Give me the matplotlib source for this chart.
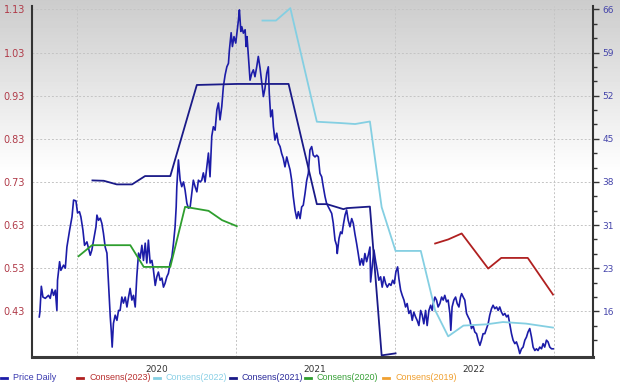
import numpy as np
import pandas as pd
import matplotlib
matplotlib.use('Agg')
import matplotlib.pyplot as plt
import matplotlib.dates as mdates
from matplotlib.lines import Line2D
from matplotlib.ticker import FixedLocator, NullFormatter

# daily price, decimal-year positions
price_t = [
    2019.761, 2019.765, 2019.774, 2019.784, 2019.799, 2019.819, 2019.830, 2019.841, 2019.851, 2019.862,
    2019.872, 2019.876, 2019.889, 2019.897, 2019.914, 2019.925, 2019.935, 2019.952, 2019.967, 2019.977,
    2019.992, 2020.002, 2020.014, 2020.023, 2020.036, 2020.046, 2020.061, 2020.071, 2020.082, 2020.092,
    2020.103, 2020.118, 2020.124, 2020.134, 2020.145, 2020.155, 2020.165, 2020.176, 2020.187, 2020.197,
    2020.208, 2020.214, 2020.220, 2020.228, 2020.239, 2020.250, 2020.260, 2020.270, 2020.281, 2020.291,
    2020.302, 2020.313, 2020.323, 2020.333, 2020.344, 2020.354, 2020.365, 2020.375, 2020.386, 2020.396,
    2020.407, 2020.417, 2020.428, 2020.438, 2020.448, 2020.459, 2020.470, 2020.480, 2020.491, 2020.501,
    2020.511, 2020.522, 2020.533, 2020.543, 2020.553, 2020.564, 2020.574, 2020.585, 2020.596, 2020.606,
    2020.616, 2020.623, 2020.627, 2020.637, 2020.648, 2020.658, 2020.669, 2020.679, 2020.690, 2020.700,
    2020.711, 2020.721, 2020.731, 2020.742, 2020.753, 2020.763, 2020.774, 2020.784, 2020.794, 2020.805,
    2020.816, 2020.826, 2020.836, 2020.847, 2020.857, 2020.868, 2020.879, 2020.889, 2020.899, 2020.910,
    2020.920, 2020.931, 2020.942, 2020.952, 2020.958, 2020.969, 2020.977, 2020.987, 2020.998, 2021.008,
    2021.015, 2021.021, 2021.030, 2021.036, 2021.046, 2021.057, 2021.063, 2021.069, 2021.077, 2021.088,
    2021.099, 2021.109, 2021.119, 2021.130, 2021.140, 2021.151, 2021.162, 2021.172, 2021.182, 2021.193,
    2021.203, 2021.209, 2021.218, 2021.228, 2021.235, 2021.245, 2021.256, 2021.266, 2021.277, 2021.287,
    2021.297, 2021.308, 2021.319, 2021.329, 2021.340, 2021.350, 2021.360, 2021.371, 2021.382, 2021.392,
    2021.403, 2021.413, 2021.423, 2021.434, 2021.445, 2021.455, 2021.465, 2021.476, 2021.486, 2021.497,
    2021.508, 2021.518, 2021.528, 2021.539, 2021.549, 2021.560, 2021.570, 2021.581, 2021.591, 2021.602,
    2021.612, 2021.623, 2021.633, 2021.637, 2021.648, 2021.658, 2021.667, 2021.675, 2021.686, 2021.696,
    2021.706, 2021.717, 2021.728, 2021.738, 2021.748, 2021.759, 2021.769, 2021.780, 2021.791, 2021.801,
    2021.811, 2021.822, 2021.832, 2021.843, 2021.847, 2021.857, 2021.868, 2021.879, 2021.889, 2021.899,
    2021.910, 2021.920, 2021.931, 2021.942, 2021.952, 2021.964, 2021.975, 2021.986, 2021.996, 2022.006,
    2022.017, 2022.025, 2022.036, 2022.046, 2022.057, 2022.067, 2022.077, 2022.088, 2022.099, 2022.109,
    2022.119, 2022.130, 2022.140, 2022.151, 2022.162, 2022.172, 2022.182, 2022.193, 2022.203, 2022.214,
    2022.225, 2022.235, 2022.241, 2022.252, 2022.262, 2022.272, 2022.283, 2022.294, 2022.304, 2022.314,
    2022.325, 2022.335, 2022.346, 2022.352, 2022.360, 2022.371, 2022.382, 2022.392, 2022.403, 2022.413,
    2022.420, 2022.430, 2022.440, 2022.451, 2022.461, 2022.472, 2022.482, 2022.492, 2022.503, 2022.514,
    2022.524, 2022.535, 2022.545, 2022.555, 2022.566, 2022.577, 2022.587, 2022.597, 2022.608, 2022.618,
    2022.629, 2022.640, 2022.650, 2022.660, 2022.671, 2022.681, 2022.692, 2022.703, 2022.713, 2022.723,
    2022.734, 2022.744, 2022.755, 2022.765, 2022.776, 2022.786, 2022.797, 2022.807, 2022.818, 2022.828,
    2022.838, 2022.849, 2022.860, 2022.870, 2022.881, 2022.891, 2022.901, 2022.912, 2022.923, 2022.933,
    2022.943, 2022.954, 2022.964, 2022.975, 2022.986, 2022.996,
]
price = [
    0.417, 0.428, 0.488, 0.463, 0.460, 0.467, 0.460, 0.481, 0.467, 0.479,
    0.432, 0.502, 0.545, 0.525, 0.537, 0.530, 0.579, 0.618, 0.649, 0.688,
    0.686, 0.658, 0.661, 0.649, 0.618, 0.583, 0.591, 0.576, 0.560, 0.572,
    0.595, 0.626, 0.653, 0.641, 0.646, 0.634, 0.611, 0.579, 0.565, 0.495,
    0.417, 0.386, 0.347, 0.402, 0.421, 0.409, 0.432, 0.432, 0.463, 0.449,
    0.463, 0.440, 0.463, 0.483, 0.456, 0.467, 0.440, 0.510, 0.565, 0.553,
    0.583, 0.548, 0.588, 0.542, 0.595, 0.542, 0.548, 0.525, 0.490, 0.510,
    0.521, 0.502, 0.507, 0.486, 0.495, 0.510, 0.518, 0.542, 0.556, 0.588,
    0.626, 0.672, 0.719, 0.781, 0.734, 0.719, 0.730, 0.711, 0.681, 0.669,
    0.672, 0.704, 0.734, 0.719, 0.707, 0.734, 0.730, 0.734, 0.751, 0.730,
    0.765, 0.797, 0.742, 0.836, 0.858, 0.850, 0.897, 0.913, 0.874, 0.905,
    0.951, 0.978, 0.997, 1.005, 1.036, 1.076, 1.044, 1.067, 1.052, 1.083,
    1.106, 1.129, 1.079, 1.090, 1.075, 1.083, 1.044, 1.067, 1.025, 0.966,
    0.982, 0.990, 0.974, 0.997, 1.021, 0.994, 0.959, 0.928, 0.947, 0.982,
    0.997, 0.936, 0.881, 0.897, 0.858, 0.827, 0.843, 0.820, 0.812, 0.796,
    0.785, 0.765, 0.788, 0.773, 0.758, 0.734, 0.696, 0.665, 0.645, 0.661,
    0.645, 0.672, 0.676, 0.703, 0.734, 0.750, 0.804, 0.812, 0.792, 0.788,
    0.792, 0.788, 0.750, 0.742, 0.719, 0.696, 0.680, 0.672, 0.665, 0.657,
    0.634, 0.595, 0.583, 0.564, 0.599, 0.614, 0.610, 0.630, 0.653, 0.665,
    0.641, 0.626, 0.645, 0.634, 0.610, 0.587, 0.564, 0.537, 0.552, 0.537,
    0.564, 0.545, 0.560, 0.579, 0.498, 0.533, 0.572, 0.545, 0.525, 0.502,
    0.510, 0.486, 0.510, 0.494, 0.486, 0.494, 0.490, 0.502, 0.494, 0.521,
    0.533, 0.506, 0.479, 0.467, 0.456, 0.440, 0.448, 0.425, 0.432, 0.409,
    0.428, 0.417, 0.409, 0.397, 0.432, 0.421, 0.401, 0.432, 0.397, 0.432,
    0.444, 0.432, 0.448, 0.463, 0.456, 0.440, 0.448, 0.463, 0.456, 0.467,
    0.452, 0.456, 0.425, 0.386, 0.440, 0.456, 0.463, 0.448, 0.440, 0.463,
    0.471, 0.463, 0.456, 0.425, 0.417, 0.409, 0.390, 0.397, 0.382, 0.378,
    0.363, 0.351, 0.363, 0.378, 0.378, 0.390, 0.401, 0.421, 0.436, 0.444,
    0.436, 0.440, 0.432, 0.440, 0.428, 0.421, 0.425, 0.417, 0.421, 0.401,
    0.378, 0.363, 0.355, 0.359, 0.347, 0.332, 0.343, 0.347, 0.363, 0.370,
    0.382, 0.390, 0.370, 0.347, 0.339, 0.343, 0.339, 0.347, 0.343, 0.355,
    0.347, 0.363, 0.359, 0.347, 0.343, 0.343,
]

# consensus estimates (right axis)
cons2023_dates = ['2022-04-03', '2022-05-03', '2022-06-03', '2022-08-03', '2022-09-02',
                  '2022-11-02', '2022-12-30']
cons2023 = [27.23, 27.90, 28.89, 23.08, 24.84, 24.84, 18.77]

cons2022_dates = ['2021-03-02', '2021-04-02', '2021-05-05', '2021-07-05', '2021-08-27',
                  '2021-10-01', '2021-11-04', '2021-12-01', '2022-01-02', '2022-03-01',
                  '2022-04-03', '2022-05-03', '2022-06-07', '2022-07-30', '2022-09-06',
                  '2022-10-29', '2022-12-30']
cons2022 = [64.16, 64.16, 66.22, 47.40, 47.19, 47.02, 47.44, 33.25, 26.00, 26.00,
            16.17, 11.85, 13.63, 13.84, 14.22, 13.96, 13.30]

cons2021_dates = ['2020-02-05', '2020-03-02', '2020-04-01', '2020-05-06', '2020-06-05',
                  '2020-08-02', '2020-10-02', '2021-01-02', '2021-05-01', '2021-07-05',
                  '2021-07-28', '2021-09-04', '2021-09-12', '2021-11-04', '2021-12-01',
                  '2022-01-02']
cons2021 = [37.68, 37.62, 37.02, 37.02, 38.40, 38.40, 53.49, 53.66, 53.66, 33.75,
            33.75, 32.92, 33.09, 33.34, 8.70, 9.03]

cons2020_dates = ['2020-01-04', '2020-02-04', '2020-05-02', '2020-06-02', '2020-08-02',
                  '2020-09-05', '2020-10-29', '2020-11-29', '2021-01-02']
cons2020 = [25.12, 26.95, 26.95, 23.35, 23.35, 33.30, 32.64, 31.10, 30.10]

cons2019_dates = []
cons2019 = []

left_ticks = [0.43, 0.53, 0.63, 0.73, 0.83, 0.93, 1.03, 1.13]
right_labels = ['16', '23', '31', '38', '45', '52', '59', '66']
years = [2020, 2021, 2022]

C_PRICE = '#1c1ca8'
C23 = '#b02020'
C22 = '#84cfe2'
C21 = '#1a1a88'
C20 = '#2e9e2e'
C19 = '#f0a030'


def to_date(t):
    return pd.Timestamp('2020-01-01') + pd.to_timedelta((np.asarray(t) - 2020) * 365.25, unit='D')


fig = plt.figure(figsize=(6.2, 3.86), dpi=100)

# grey-to-white background
bg = fig.add_axes([0, 0, 1, 1], zorder=-10)
grad = np.clip(np.linspace(0, 1, 386) / 0.45, 0, 1)
grad = 0.80 + 0.20 * grad
bg.imshow(grad[:, None], aspect='auto', cmap='gray', vmin=0, vmax=1, extent=[0, 1, 0, 1])
bg.axis('off')

ax = fig.add_axes([32 / 620, 1 - 357 / 386, (593 - 32) / 620, (357 - 6) / 386])
ax.set_facecolor('none')
ax2 = ax.twinx()

ax.plot(to_date(price_t), price, color=C_PRICE, lw=1.2, zorder=3)
ax2.plot(pd.to_datetime(cons2023_dates), cons2023, color=C23, lw=1.3)
ax2.plot(pd.to_datetime(cons2022_dates), cons2022, color=C22, lw=1.3)
ax2.plot(pd.to_datetime(cons2021_dates), cons2021, color=C21, lw=1.3)
ax2.plot(pd.to_datetime(cons2020_dates), cons2020, color=C20, lw=1.3)
ax2.plot(pd.to_datetime(cons2019_dates), cons2019, color=C19, lw=1.3)

ax.set_xlim(pd.Timestamp('2019-09-19'), pd.Timestamp('2023-04-01'))
lo, hi = 0.324, 1.138
ax.set_ylim(lo, hi)
scale = 50 / 0.7
ax2.set_ylim(16 + (lo - 0.43) * scale, 16 + (hi - 0.43) * scale)

ax.set_yticks(left_ticks)
ax.set_yticklabels([f'{v:.2f}' for v in left_ticks])
ax.tick_params(axis='y', length=0, pad=5, labelsize=7, labelcolor='#b03a48')

rpos = [16 + (v - 0.43) * scale for v in left_ticks]
ax2.set_yticks(rpos)
ax2.set_yticklabels(right_labels)
step = scale * 0.1 / 3
minor = [16 + k * step for k in range(-3, 22) if k % 3 != 0]
ax2.yaxis.set_minor_locator(FixedLocator(minor))
ax2.tick_params(axis='y', which='major', length=4, width=1, color='#333333',
                pad=3, labelsize=6.5, labelcolor='#4444aa')
ax2.tick_params(axis='y', which='minor', length=3, width=1, color='#333333')

ax.xaxis.set_major_locator(mdates.YearLocator())
ax.xaxis.set_major_formatter(NullFormatter())
ax.xaxis.set_minor_locator(mdates.MonthLocator(bymonth=7, bymonthday=1))
ax.xaxis.set_minor_formatter(mdates.DateFormatter('%Y'))
ax.tick_params(axis='x', which='both', length=0, pad=6, labelsize=6.5, labelcolor='#333333')

ax.grid(axis='y', which='major', color='#c4c4c4', ls=(0, (2, 2)), lw=0.7)
ax.grid(axis='x', which='major', color='#c4c4c4', ls=(0, (2, 2)), lw=0.7)
ax.set_axisbelow(True)

for a in (ax, ax2):
    a.spines['top'].set_visible(False)
ax.spines['right'].set_visible(False)
ax2.spines['left'].set_visible(False)
ax2.spines['bottom'].set_visible(False)
ax.spines['left'].set_color('#333333')
ax.spines['left'].set_linewidth(1.5)
ax.spines['bottom'].set_color('#3a3a3a')
ax.spines['bottom'].set_linewidth(2.2)
ax2.spines['right'].set_color('#333333')
ax2.spines['right'].set_linewidth(1.5)

# legend row along the bottom
leg_labels = ['Price Daily', 'Consens(2023)', 'Consens(2022)', 'Consens(2021)',
              'Consens(2020)', 'Consens(2019)']
leg_colors = [C_PRICE, C23, C22, C21, C20, C19]
leg_text_colors = ['#3b3bb0', '#b83030', '#8ad0e6', '#2a2a9a', '#38a038', '#f0a030']
leg_x = [4, 80, 157, 233, 308, 386]
ly = 1 - 378 / 386
for x, lab, c, tc in zip(leg_x, leg_labels, leg_colors, leg_text_colors):
    fig.add_artist(Line2D([(x - 3) / 620, (x + 3) / 620], [ly, ly], color=c, lw=2))
    fig.text((x + 9) / 620, ly, lab, color=tc, fontsize=6.5, family='Liberation Sans',
             va='center', ha='left')

fig.savefig('out.png', dpi=100)
